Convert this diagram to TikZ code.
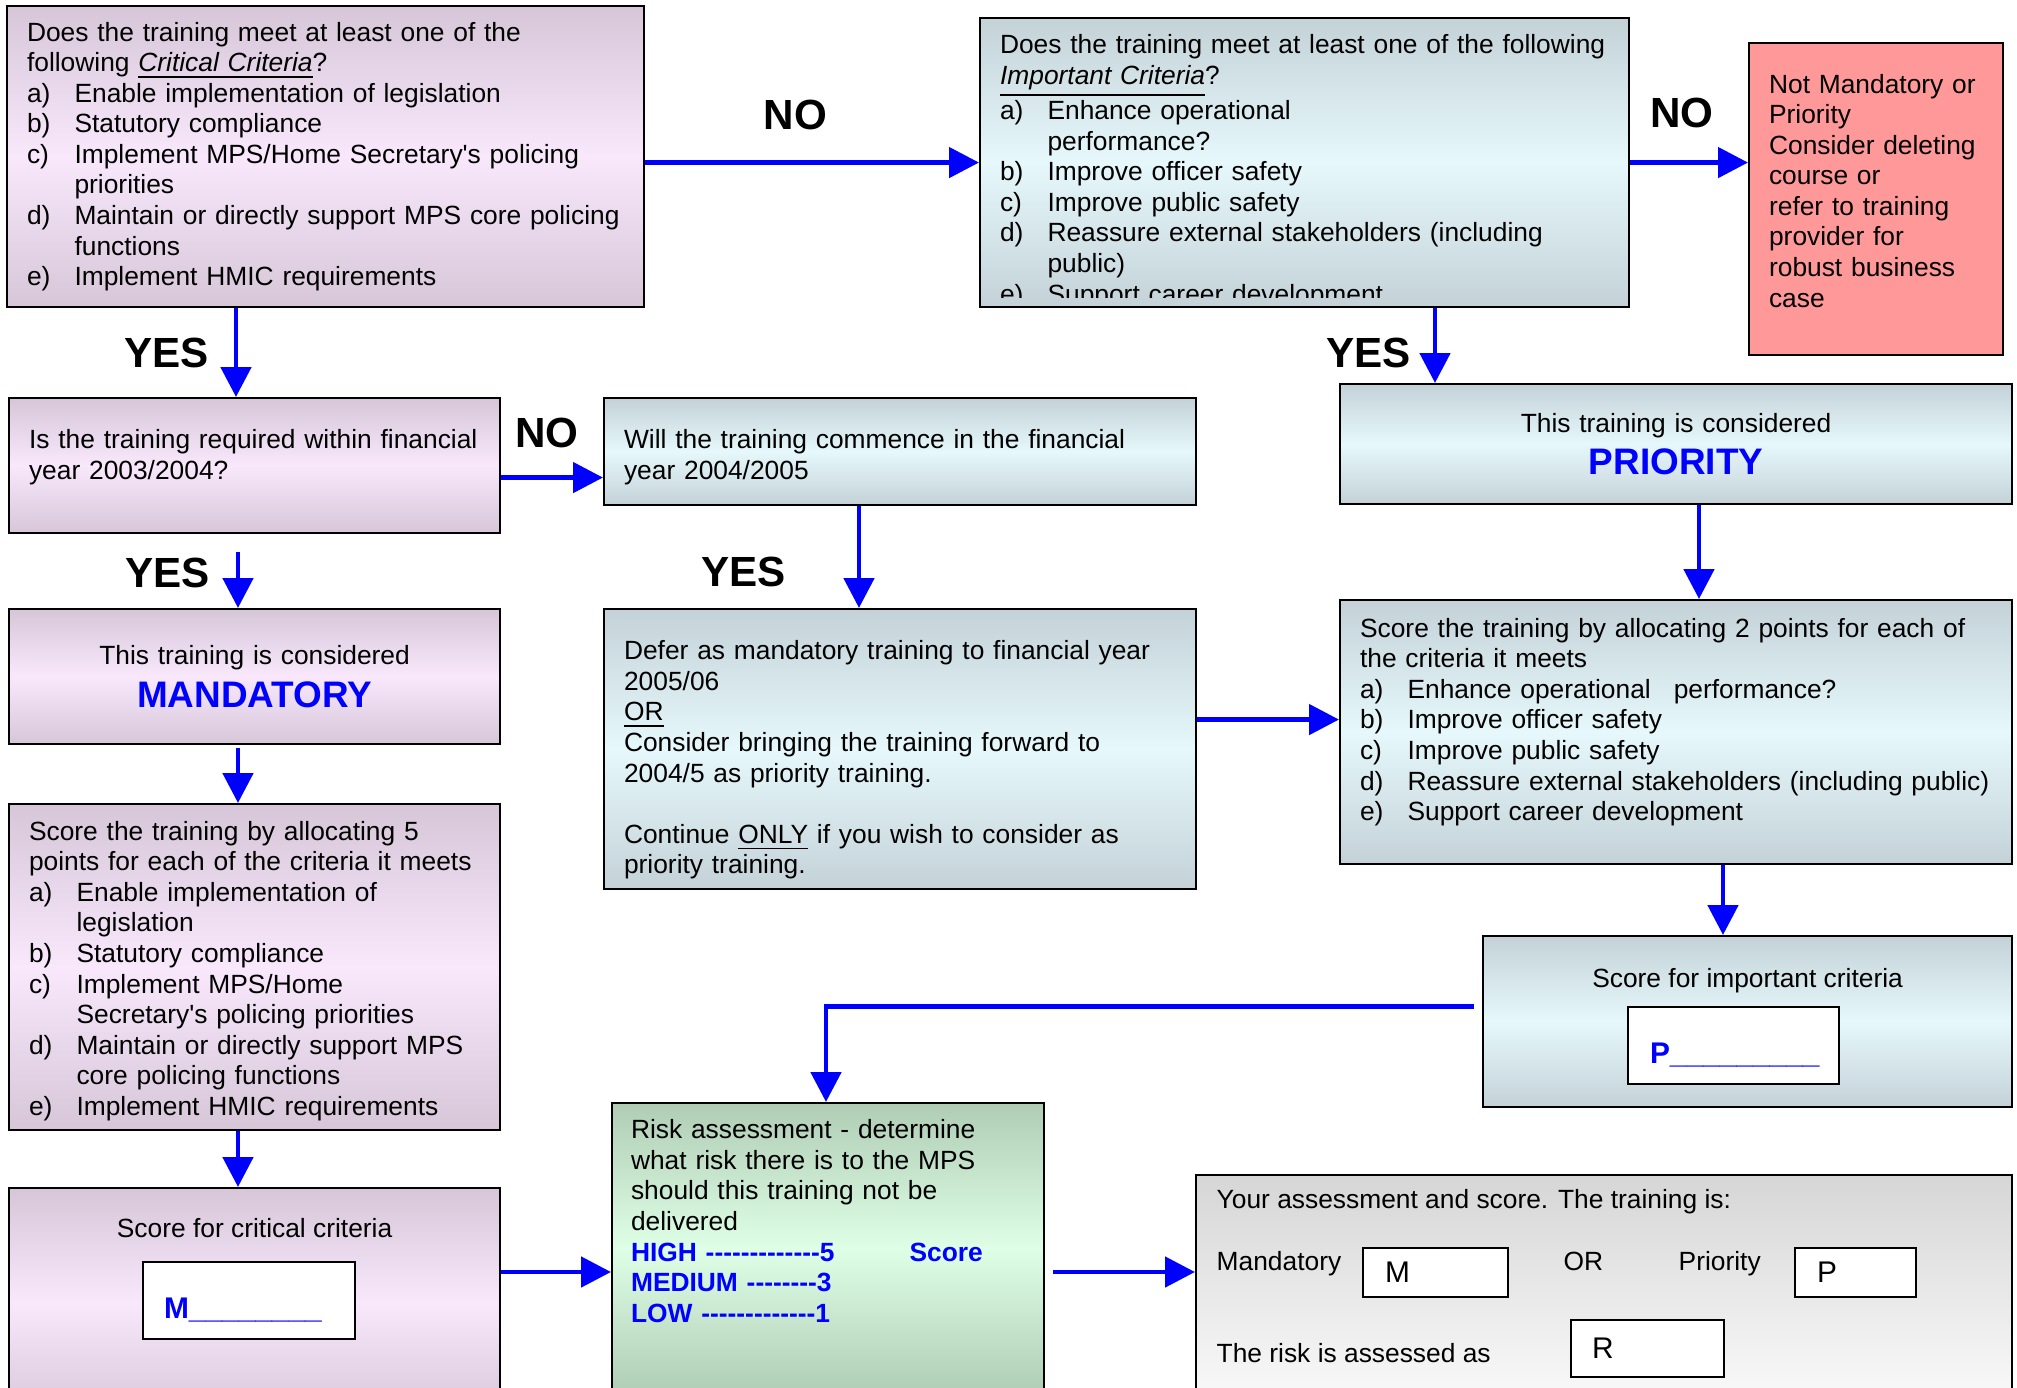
\documentclass[tikz,border=0pt]{standalone}
\usepackage{fontspec}
\setmainfont{Liberation Sans}[Ligatures=TeXOff]
\usepackage{xcolor}
\usepackage{tikz}
\definecolor{mauvetop}{RGB}{214,198,216}
\definecolor{mauvemid}{RGB}{249,232,252}
\definecolor{steeltop}{RGB}{196,210,216}
\definecolor{steelmid}{RGB}{230,248,252}
\definecolor{sagetop}{RGB}{176,204,180}
\definecolor{sagemid}{RGB}{222,255,230}
\definecolor{greytop}{RGB}{214,214,214}
\definecolor{greymid}{RGB}{250,250,250}
\definecolor{salmon}{RGB}{255,153,153}
\definecolor{flowblue}{RGB}{0,0,255}
\usetikzlibrary{arrows.meta}

\newcommand{\itm}[1]{\makebox[0.475cm][l]{#1}}
\newcommand{\ind}{\hspace*{0.475cm}}
\newcommand{\padtop}[1]{\rule{0pt}{#1}}
\newcommand{\padbot}[1]{\rule[-#1]{0pt}{#1}}
\newcommand{\blank}{\_\_\_\_\_\_\_\_}
\newcommand{\bigblue}[1]{{\fontsize{10.5}{12}\selectfont\bfseries\textcolor{flowblue}{#1}}}
\newcommand{\riskline}[1]{\textcolor{flowblue}{\textbf{#1}}}

\tikzset{
  box/.style={draw=black, line width=0.6pt, anchor=north west, inner xsep=0.2cm, inner ysep=0pt, align=left, font=\fontsize{7.5}{8.7}\selectfont},
  mauvefill/.style={top color=mauvetop, bottom color=mauvetop, middle color=mauvemid},
  steelfill/.style={top color=steeltop, bottom color=steeltop, middle color=steelmid},
  sagefill/.style={top color=sagetop, bottom color=sagetop, middle color=sagemid},
  greyfill/.style={top color=greytop, bottom color=greymid},
  answer/.style={font=\bfseries\fontsize{12}{14}\selectfont, inner sep=0pt},
  flow/.style={draw=flowblue, line width=1.4pt, -{Triangle[length=0.3cm, width=0.3cm]}},
  valbox/.style={draw=black, line width=0.6pt, fill=white, anchor=north west},
  blankbox/.style={valbox, align=left, text height=0.36cm, text depth=0pt, text=flowblue, font=\bfseries\fontsize{8.5}{10}\selectfont},
  letterbox/.style={valbox, align=left, inner xsep=0.22cm, font=\fontsize{8.5}{10}\selectfont},
  plain/.style={inner sep=0pt, anchor=base west, font=\fontsize{7.5}{8.7}\selectfont},
}

\begin{document}
\begin{tikzpicture}
\useasboundingbox (0,0) rectangle (20.17,-13.88);
\clip (0,0) rectangle (20.17,-13.88);

% first row
\node[box, mauvefill, minimum width=6.37cm, minimum height=3.01cm, text width=5.97cm, xshift=0.06cm, yshift=-0.05cm] (crit) {Does the training meet at least one of the\\
following \underline{\textit{Critical Criteria}}?\\
\itm{a)}Enable implementation of legislation\\
\itm{b)}Statutory compliance\\
\itm{c)}Implement MPS/Home Secretary's policing\\
\ind priorities\\
\itm{d)}Maintain or directly support MPS core policing\\
\ind functions\\
\itm{e)}Implement HMIC requirements};

\node[box, steelfill, minimum width=6.49cm, minimum height=2.89cm, xshift=9.79cm, yshift=-0.17cm] (imp) {};
\begin{scope}
\clip (imp.north west) rectangle ([yshift=0.11cm]imp.south east);
\node[box, draw=none, inner ysep=0.167cm, text width=6.09cm] (imptext) at (imp.north west) {Does the training meet at least one of the following\\
\underline{\textit{Important Criteria}}?\\
\itm{a)}Enhance operational\\
\ind performance?\\
\itm{b)}Improve officer safety\\
\itm{c)}Improve public safety\\
\itm{d)}Reassure external stakeholders (including\\
\ind public)\\
\itm{e)}Support career development};
\end{scope}

\node[box, fill=salmon, minimum width=2.54cm, minimum height=3.12cm, text width=2.14cm, xshift=17.48cm, yshift=-0.42cm] (notmand) {Not Mandatory or\\ Priority\\ Consider deleting\\ course or\\ refer to training\\ provider for\\ robust business\\ case\padbot{0.17cm}};

% second row
\node[box, mauvefill, minimum width=4.91cm, minimum height=1.35cm, text width=4.51cm, xshift=0.08cm, yshift=-3.97cm] (year03) {Is the training required within financial\\ year 2003/2004?\padbot{0.225cm}};
\node[box, steelfill, minimum width=5.92cm, minimum height=1.07cm, text width=5.52cm, xshift=6.03cm, yshift=-3.97cm] (year04) {\padtop{0.30cm}Will the training commence in the financial\\ year 2004/2005};
\node[box, steelfill, align=center, minimum width=6.72cm, minimum height=1.20cm, text width=6.32cm, xshift=13.39cm, yshift=-3.83cm] (priority) {This training is considered\\[0.08cm] \bigblue{PRIORITY}};

% third row
\node[box, mauvefill, align=center, minimum width=4.91cm, minimum height=1.35cm, text width=4.51cm, xshift=0.08cm, yshift=-6.08cm] (mandatory) {This training is considered\\[0.08cm] \bigblue{MANDATORY}};
\node[box, steelfill, minimum width=5.92cm, minimum height=2.80cm, text width=5.52cm, xshift=6.03cm, yshift=-6.08cm] (defer) {\padtop{0.41cm}Defer as mandatory training to financial year\\ 2005/06\\ \underline{OR}\\ Consider bringing the training forward to\\ 2004/5 as priority training.\\ \mbox{}\\ Continue \underline{ONLY} if you wish to consider as\\ priority training.};
\node[box, steelfill, minimum width=6.72cm, minimum height=2.64cm, text width=6.32cm, xshift=13.39cm, yshift=-5.99cm] (score2) {Score the training by allocating 2 points for each of\\
the criteria it meets\\
\itm{a)}Enhance operational\hspace*{0.23cm}performance?\\
\itm{b)}Improve officer safety\\
\itm{c)}Improve public safety\\
\itm{d)}Reassure external stakeholders (including public)\\
\itm{e)}Support career development\padbot{0.255cm}};

% scoring
\node[box, mauvefill, minimum width=4.91cm, minimum height=3.26cm, text width=4.51cm, xshift=0.08cm, yshift=-8.03cm] (score5) {\padtop{0.27cm}Score the training by allocating 5\\
points for each of the criteria it meets\\
\itm{a)}Enable implementation of\\
\ind legislation\\
\itm{b)}Statutory compliance\\
\itm{c)}Implement MPS/Home\\
\ind Secretary's policing priorities\\
\itm{d)}Maintain or directly support MPS\\
\ind core policing functions\\
\itm{e)}Implement HMIC requirements};

\node[box, steelfill, minimum width=5.29cm, minimum height=1.71cm, xshift=14.82cm, yshift=-9.35cm] (scoreimp) {};
\node[plain, anchor=base, yshift=-0.52cm] (scoreimptitle) at (scoreimp.north) {Score for important criteria};
\node[blankbox, inner xsep=0.22cm, minimum width=2.11cm, minimum height=0.77cm, text width=1.67cm] (pblank) at ([xshift=1.45cm, yshift=-0.71cm]scoreimp.north west) {P\blank\_};

\node[box, mauvefill, minimum width=4.91cm, minimum height=2.3cm, xshift=0.08cm, yshift=-11.87cm] (scorecrit) {};
\node[plain, anchor=base, yshift=-0.50cm] (scorecrittitle) at (scorecrit.north) {Score for critical criteria};
\node[blankbox, inner xsep=0.21cm, minimum width=2.12cm, minimum height=0.77cm, text width=1.70cm] (mblank) at ([xshift=1.34cm, yshift=-0.74cm]scorecrit.north west) {M\blank};

% risk and result
\node[box, sagefill, minimum width=4.32cm, minimum height=2.9cm, xshift=6.11cm, yshift=-11.02cm] (risk) {};
\node[box, draw=none, inner xsep=0.19cm, inner ysep=0.166cm, text width=3.94cm] (risktext) at (risk.north west) {Risk assessment - determine\\
what risk there is to the MPS\\
should this training not be\\
delivered\\
\riskline{HIGH -------------5}\hspace{0.75cm}\riskline{Score}\\
\riskline{MEDIUM --------3}\\
\riskline{LOW -------------1}};

\node[box, greyfill, minimum width=8.16cm, minimum height=2.3cm, xshift=11.95cm, yshift=-11.74cm] (assess) {};
\node[plain] (assesstitle) at ([xshift=0.21cm, yshift=-0.34cm]assess.north west) {Your assessment and score. The training is:};
\node[plain] (mandlabel) at ([xshift=0.21cm, yshift=-0.96cm]assess.north west) {Mandatory};
\node[letterbox, minimum width=1.45cm, minimum height=0.49cm, text width=1.01cm] (mvalue) at ([xshift=1.67cm, yshift=-0.73cm]assess.north west) {M};
\node[plain] (orlabel) at ([xshift=3.68cm, yshift=-0.96cm]assess.north west) {OR};
\node[plain] (priolabel) at ([xshift=4.83cm, yshift=-0.96cm]assess.north west) {Priority};
\node[letterbox, minimum width=1.21cm, minimum height=0.49cm, text width=0.77cm] (pvalue) at ([xshift=5.99cm, yshift=-0.73cm]assess.north west) {P};
\node[plain] (risklabel) at ([xshift=0.21cm, yshift=-1.88cm]assess.north west) {The risk is assessed as};
\node[letterbox, inner xsep=0.21cm, minimum width=1.53cm, minimum height=0.57cm, text width=1.11cm] (rvalue) at ([xshift=3.75cm, yshift=-1.45cm]assess.north west) {R};

% connectors
\draw[flow] (crit.east |- imp.west) -- node[answer, above=0.30cm, pos=0.45] (noimp) {NO} (imp.west);
\draw[flow] (imp.east) -- node[answer, above=0.32cm, pos=0.44] (nomand) {NO} (imp.east -| notmand.west);
\draw[flow] ([xshift=2.3cm]crit.south west) -- node[answer, left=0.25cm] (yesyear) {YES} ([xshift=2.3cm]crit.south west |- year03.north);
\draw[flow] ([xshift=4.56cm]imp.south west) -- node[answer, left=0.22cm, pos=0.6] (yesprio) {YES} ([xshift=4.56cm]imp.south west |- priority.north);
\draw[flow] ([yshift=-0.12cm]year03.east) -- node[answer, above=0.27cm, pos=0.45] (noyear) {NO} ([yshift=-0.12cm]year03.east -| year04.west);
\draw[flow] ([xshift=2.3cm, yshift=-0.18cm]year03.south west) -- node[answer, left=0.26cm, pos=0.38] (yesmand) {YES} ([xshift=2.3cm]year03.south west |- mandatory.north);
\draw[flow] ([xshift=2.56cm]year04.south west) -- node[answer, left=0.71cm, pos=0.65] (yesdefer) {YES} ([xshift=2.56cm]year04.south west |- defer.north);
\draw[flow] ([xshift=3.60cm]priority.south west) -- ([xshift=3.60cm]priority.south west |- score2.north);
\draw[flow] ([yshift=0.295cm]defer.east) -- ([yshift=0.295cm]defer.east -| score2.west);
\draw[flow] ([xshift=2.3cm, yshift=-0.03cm]mandatory.south west) -- ([xshift=2.3cm]mandatory.south west |- score5.north);
\draw[flow] ([xshift=3.84cm]score2.south west) -- ([xshift=3.84cm]score2.south west |- scoreimp.north);
\draw[flow] ([xshift=-0.08cm, yshift=0.155cm]scoreimp.west) -| ([xshift=2.15cm]risk.north west);
\draw[flow] ([xshift=2.3cm]score5.south west) -- ([xshift=2.3cm]score5.south west |- scorecrit.north);
\draw[flow] ([yshift=-0.85cm]scorecrit.north east) -- ([yshift=-0.85cm]scorecrit.north east -| risk.west);
\draw[flow] ([xshift=0.08cm, yshift=-1.70cm]risk.north east) -- ([yshift=-1.70cm]risk.north east -| assess.west);

\end{tikzpicture}
\end{document}
